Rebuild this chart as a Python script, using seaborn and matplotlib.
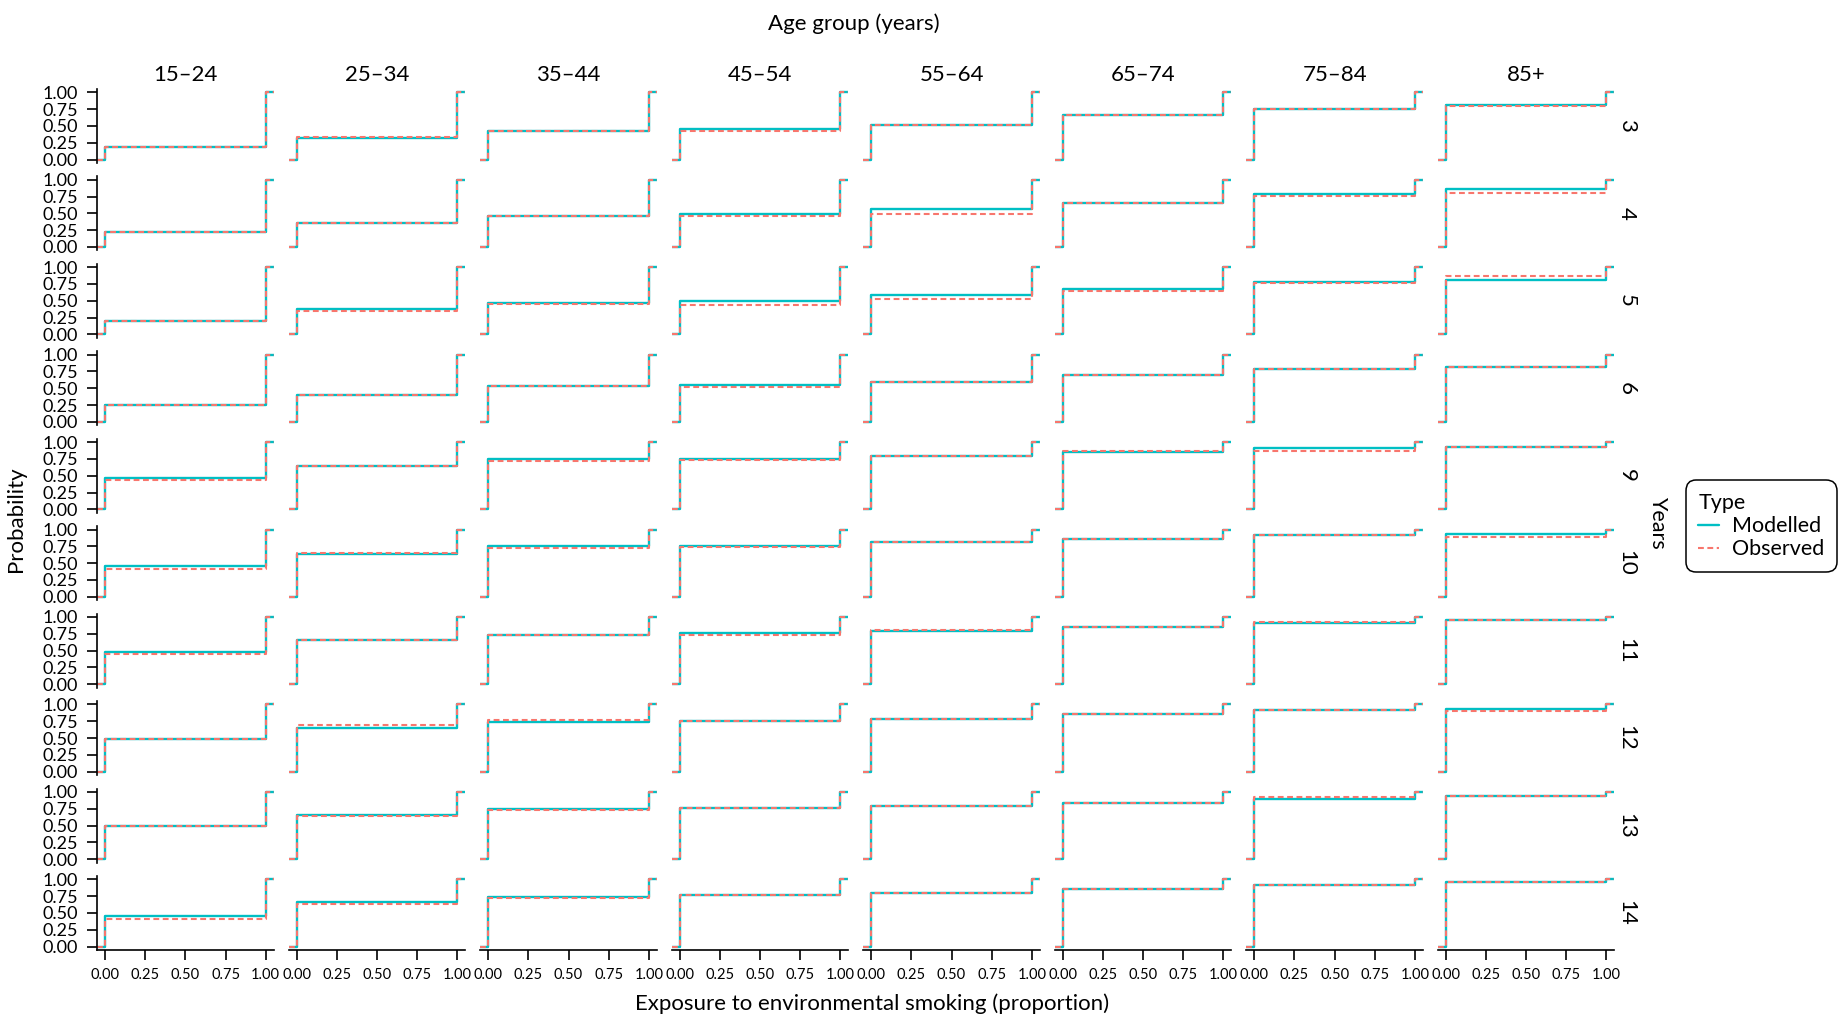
import numpy as np
import pandas as pd
import matplotlib
matplotlib.use("Agg")
import matplotlib.pyplot as plt
from matplotlib.ticker import FormatStrFormatter
import seaborn as sns

# Facet levels
years = [3, 4, 5, 6, 9, 10, 11, 12, 13, 14]
age_groups = ["15–24", "25–34", "35–44", "45–54", "55–64", "65–74", "75–84", "85+"]
types = ["Modelled", "Observed"]
exposure_levels = [0.0, 1.0]

# Probability of no exposure (ECDF value at exposure = 0), one row per year,
# one column per age group
modelled = [
    [0.18, 0.32, 0.42, 0.46, 0.51, 0.655, 0.755, 0.81],
    [0.22, 0.355, 0.465, 0.495, 0.56, 0.66, 0.785, 0.855],
    [0.20, 0.383, 0.473, 0.498, 0.587, 0.677, 0.776, 0.81],
    [0.25, 0.40, 0.54, 0.543, 0.60, 0.69, 0.79, 0.82],
    [0.463, 0.647, 0.741, 0.746, 0.80, 0.846, 0.905, 0.92],
    [0.465, 0.63, 0.752, 0.762, 0.812, 0.861, 0.92, 0.93],
    [0.478, 0.662, 0.736, 0.761, 0.79, 0.856, 0.91, 0.95],
    [0.48, 0.653, 0.743, 0.752, 0.777, 0.86, 0.92, 0.936],
    [0.495, 0.65, 0.74, 0.755, 0.795, 0.84, 0.90, 0.935],
    [0.46, 0.665, 0.745, 0.77, 0.79, 0.85, 0.915, 0.955],
]
observed = [
    [0.18, 0.34, 0.42, 0.43, 0.51, 0.655, 0.755, 0.80],
    [0.22, 0.355, 0.455, 0.46, 0.485, 0.655, 0.755, 0.795],
    [0.20, 0.353, 0.448, 0.438, 0.527, 0.652, 0.771, 0.87],
    [0.25, 0.40, 0.53, 0.523, 0.60, 0.69, 0.78, 0.81],
    [0.438, 0.647, 0.726, 0.73, 0.795, 0.87, 0.86, 0.92],
    [0.406, 0.65, 0.718, 0.733, 0.812, 0.861, 0.92, 0.89],
    [0.448, 0.662, 0.726, 0.736, 0.805, 0.856, 0.92, 0.95],
    [0.48, 0.693, 0.767, 0.752, 0.78, 0.86, 0.92, 0.906],
    [0.495, 0.635, 0.73, 0.755, 0.795, 0.84, 0.92, 0.935],
    [0.415, 0.635, 0.725, 0.77, 0.79, 0.85, 0.915, 0.955],
]

tick_values = [0.0, 0.25, 0.5, 0.75, 1.0]
palette = {"Modelled": "#00BFC4", "Observed": "#F8766D"}

# Long table: each panel/type has two exposure values weighted so that the
# ECDF reaches p at exposure 0 and 1 at exposure 1
records = []
for i, year in enumerate(years):
    for j, age in enumerate(age_groups):
        for kind, table in zip(types, [modelled, observed]):
            p0 = table[i][j]
            for x, w in zip(exposure_levels, [p0, 1.0 - p0]):
                records.append(dict(year=year, age=age, Type=kind,
                                    exposure=x, weight=w))
df = pd.DataFrame(records)

sns.set_theme(style="ticks")
plt.rcParams["font.family"] = ["Lato", "DejaVu Sans"]
plt.rcParams.update({
    "axes.linewidth": 1.2,
    "xtick.major.width": 1.2,
    "ytick.major.width": 1.2,
    "xtick.major.size": 7.2,
    "ytick.major.size": 7.2,
    "xtick.major.pad": 5.5,
    "ytick.major.pad": 6.5,
    "xtick.color": "black",
    "ytick.color": "black",
    "axes.edgecolor": "black",
    "text.color": "black",
})

g = sns.FacetGrid(
    df, row="year", col="age", hue="Type",
    row_order=years, col_order=age_groups, hue_order=types,
    palette=palette,
    hue_kws=dict(linestyle=["-", (0, (2.8, 1.7))], linewidth=[1.7, 1.5]),
    sharex=True, sharey=True, height=1.0, aspect=1.8, despine=True,
)
g.map_dataframe(sns.ecdfplot, x="exposure", weights="weight", stat="proportion")

xlim = (-0.05, 1.05)
ylim = (-0.05, 1.05)
g.set(xlim=xlim, ylim=ylim, xticks=tick_values, yticks=tick_values)

fig = g.figure
fig.set_size_inches(18.45, 10.17)
fig.subplots_adjust(left=0.0527, right=0.875, top=0.9126, bottom=0.0659,
                    wspace=0.085, hspace=0.182)

nrows, ncols = g.axes.shape
for (i, j), ax in np.ndenumerate(g.axes):
    ax.set_title("")
    ax.set_xlabel("")
    ax.set_ylabel("")
    # pad the ECDF steps out to both panel edges
    for line in ax.get_lines():
        x, y = line.get_data()
        x = np.clip(np.r_[np.asarray(x, float), np.inf], *xlim)
        y = np.r_[np.asarray(y, float), y[-1]]
        line.set_data(x, y)
    ax.xaxis.set_major_formatter(FormatStrFormatter("%.2f"))
    ax.yaxis.set_major_formatter(FormatStrFormatter("%.2f"))
    ax.tick_params(axis="y", labelsize=13)
    ax.tick_params(axis="x", labelsize=10.5)
    if j > 0:
        ax.spines["left"].set_visible(False)
        ax.tick_params(axis="y", left=False, labelleft=False)
    if i < nrows - 1:
        ax.spines["bottom"].set_visible(False)
        ax.tick_params(axis="x", bottom=False, labelbottom=False)
    if i == 0:
        ax.set_title(age_groups[j], fontsize=16, pad=5.8)
    if j == ncols - 1:
        ax.text(1.013, 0.5, str(years[i]), transform=ax.transAxes,
                rotation=270, ha="left", va="center", fontsize=16)

fig.text(0.4626, 0.9769, "Age group (years)", ha="center", va="center", fontsize=16)
fig.text(0.4726, 0.0128, "Exposure to environmental smoking (proportion)",
         ha="center", va="center", fontsize=16)
fig.text(0.0089, 0.489, "Probability", rotation=90, ha="center", va="center",
         fontsize=16)
fig.text(0.8987, 0.4864, "Years", rotation=270, ha="center", va="center",
         fontsize=15.5)

handles, labels = g.axes[0, 0].get_legend_handles_labels()
leg = fig.legend(
    handles, labels, title="Type", loc="center",
    bbox_to_anchor=(0.9546, 0.4826), frameon=True, fancybox=True,
    fontsize=15.5, title_fontsize=15.5, handlelength=0.95,
    handletextpad=0.6, labelspacing=0.15, borderpad=0.6,
    alignment="left",
)
frame = leg.get_frame()
frame.set_edgecolor("black")
frame.set_linewidth(1.1)
frame.set_alpha(1)
frame.set_boxstyle("round", pad=0, rounding_size=0.5)

fig.savefig("out.png", dpi=100)
